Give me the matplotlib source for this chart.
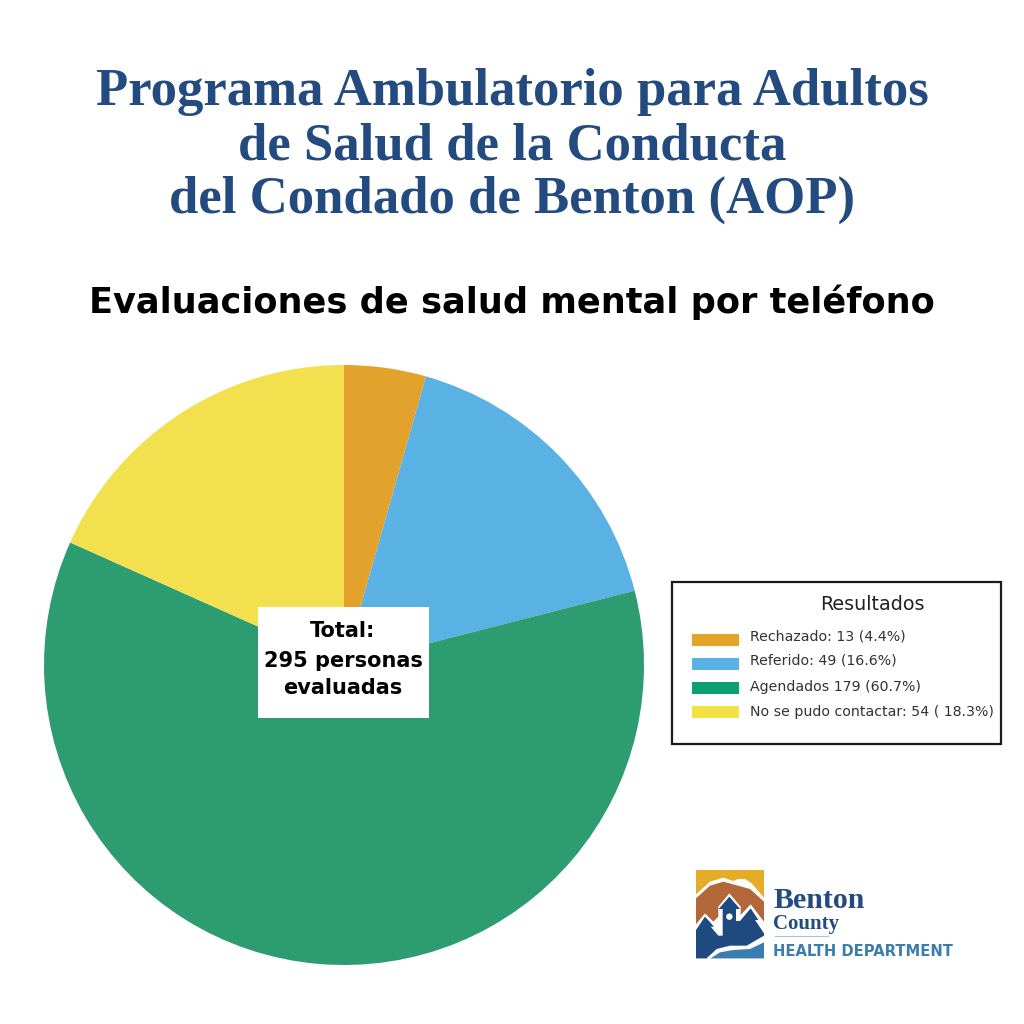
import matplotlib
matplotlib.use('Agg')
import matplotlib.pyplot as plt
from matplotlib.patches import Rectangle, Polygon, Circle

title_lines = ['Programa Ambulatorio para Adultos', 'de Salud de la Conducta', 'del Condado de Benton (AOP)']
subtitle = 'Evaluaciones de salud mental por teléfono'
categories = ['Rechazado', 'Referido', 'Agendados', 'No se pudo contactar']
values = [13, 49, 179, 54]
pie_colors = ['#E2A22B', '#5AB1E3', '#2D9C71', '#F2E04F']
legend_colors = ['#E2A52A', '#58B2E6', '#0BA074', '#F2E345']
legend_labels = ['Rechazado: 13 (4.4%)', 'Referido: 49 (16.6%)', 'Agendados 179 (60.7%)', 'No se pudo contactar: 54 ( 18.3%)']
legend_title = 'Resultados'
center_lines = ['Total:', '295 personas', 'evaluadas']

NAVY = '#234B7F'
fig = plt.figure(figsize=(10.24, 10.24), dpi=100, facecolor='white')

cx, cy, r = 344, 665, 300
ax = fig.add_axes([(cx-r)/1024, 1-(cy+r)/1024, 2*r/1024, 2*r/1024])
ax.pie(values, colors=pie_colors, startangle=90, counterclock=False, radius=1)
ax.set_xlim(-1, 1); ax.set_ylim(-1, 1); ax.axis('off')

ov = fig.add_axes([0, 0, 1, 1], facecolor='none')
ov.set_xlim(0, 1024); ov.set_ylim(1024, 0); ov.axis('off')

for t, y in zip(title_lines, [92, 146, 200]):
    ov.text(512, y, t, ha='center', va='center', fontsize=38, fontweight='bold',
            family='Liberation Serif', color=NAVY)
ov.text(512, 302, subtitle, ha='center', va='center', fontsize=25.3, fontweight='bold',
        family='DejaVu Sans', color='black')

ov.add_patch(Rectangle((258, 607), 171, 111, fc='white', ec='none', zorder=3))
for t, y in zip(center_lines, [631, 661, 688]):
    ov.text(343, y, t, ha='center', va='center', fontsize=15, fontweight='bold',
            family='DejaVu Sans', color='black', zorder=4)

ov.add_patch(Rectangle((672, 582), 329, 162, fc='white', ec='#1a1a1a', lw=1.6, zorder=3))
ov.text(872, 605, legend_title, ha='center', va='center', fontsize=13.8, family='DejaVu Sans', color='#222222', zorder=4)
for c, t, y, yt in zip(legend_colors, legend_labels, [640, 664, 688, 712], [636, 661, 687, 712]):
    ov.add_patch(Rectangle((692, y-6), 47, 12, fc=c, ec='none', zorder=4))
    ov.text(750, yt, t, ha='left', va='center', fontsize=10.2, family='DejaVu Sans', color='#333333', zorder=4)

# logo: outlines traced in a local 3x grid
def Z(pts):
    return [(690 + x/3, 865 + y/3) for x, y in pts]

def logo_poly(pts, color):
    ov.add_patch(Polygon(Z(pts), fc=color, ec='none', lw=0))

logo_poly([(18,15),(222,15),(222,280),(18,280)], '#E5AC28')
logo_poly([(18,88),(60,50),(100,38),(130,48),(145,42),(165,42),(185,55),(222,98),(222,280),(18,280)], 'white')
logo_poly([(18,100),(60,62),(100,50),(180,72),(222,110),(222,280),(18,280)], '#B3683A')
logo_poly([(18,178),(45,145),(70,170),(85,155),(85,125),(118,85),(152,125),(152,150),(182,118),(222,170),(222,280),(18,280)], 'white')
logo_poly([(18,195),(45,155),(72,185),(62,185),(85,212),(98,212),(98,132),(86,132),(118,95),(150,132),(138,132),(138,168),(150,168),(182,130),(205,165),(195,165),(222,205),(222,225),(170,245),(120,245),(80,255),(50,280),(18,280)], '#1E4A80')
ov.add_patch(Circle(Z([(118,155)])[0], 3.2, fc='white', ec='none'))
logo_poly([(50,280),(80,252),(120,242),(170,242),(222,212),(222,280)], 'white')
logo_poly([(62,280),(90,262),(130,255),(180,252),(222,232),(222,280)], '#3A7DAF')

ov.text(773, 908, 'Benton', ha='left', va='baseline', fontsize=21.5, fontweight='bold', family='Liberation Serif', color=NAVY)
ov.text(773, 929, 'County', ha='left', va='baseline', fontsize=15, fontweight='bold', family='Liberation Serif', color=NAVY)
ov.plot([775, 828], [936, 936], color='#AFC0DC', lw=0.8)
ov.text(773, 951, 'HEALTH DEPARTMENT', ha='left', va='center', fontsize=10.6, fontweight='bold', family='DejaVu Sans', color='#3A7DAF')

fig.savefig('out.png', dpi=100, facecolor='white')
